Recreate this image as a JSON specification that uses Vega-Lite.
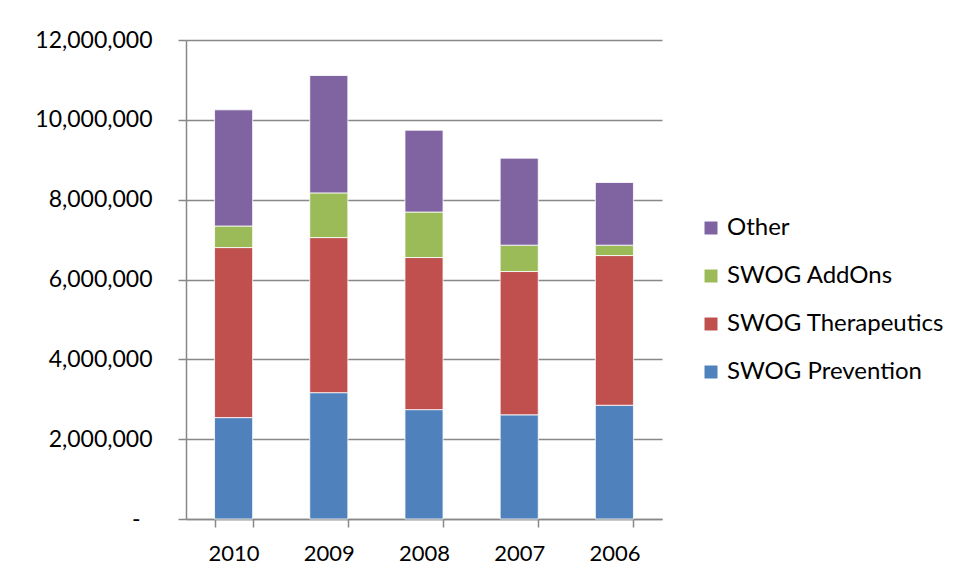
{
  "$schema": "https://vega.github.io/schema/vega-lite/v6.json",
  "autosize": "none",
  "width": 476,
  "height": 479,
  "padding": {"left": 186, "top": 40, "right": 297, "bottom": 59},
  "background": "white",
  "data": {
    "values": [
      {"year": "2010", "series": "SWOG Prevention", "value": 2540000, "ord": 1},
      {"year": "2010", "series": "SWOG Therapeutics", "value": 4260000, "ord": 2},
      {"year": "2010", "series": "SWOG AddOns", "value": 540000, "ord": 3},
      {"year": "2010", "series": "Other", "value": 2910000, "ord": 4},
      {"year": "2009", "series": "SWOG Prevention", "value": 3165000, "ord": 1},
      {"year": "2009", "series": "SWOG Therapeutics", "value": 3885000, "ord": 2},
      {"year": "2009", "series": "SWOG AddOns", "value": 1120000, "ord": 3},
      {"year": "2009", "series": "Other", "value": 2940000, "ord": 4},
      {"year": "2008", "series": "SWOG Prevention", "value": 2740000, "ord": 1},
      {"year": "2008", "series": "SWOG Therapeutics", "value": 3810000, "ord": 2},
      {"year": "2008", "series": "SWOG AddOns", "value": 1140000, "ord": 3},
      {"year": "2008", "series": "Other", "value": 2050000, "ord": 4},
      {"year": "2007", "series": "SWOG Prevention", "value": 2610000, "ord": 1},
      {"year": "2007", "series": "SWOG Therapeutics", "value": 3590000, "ord": 2},
      {"year": "2007", "series": "SWOG AddOns", "value": 660000, "ord": 3},
      {"year": "2007", "series": "Other", "value": 2180000, "ord": 4},
      {"year": "2006", "series": "SWOG Prevention", "value": 2850000, "ord": 1},
      {"year": "2006", "series": "SWOG Therapeutics", "value": 3750000, "ord": 2},
      {"year": "2006", "series": "SWOG AddOns", "value": 260000, "ord": 3},
      {"year": "2006", "series": "Other", "value": 1570000, "ord": 4}
    ]
  },
  "mark": {"type": "bar", "stroke": "white", "strokeWidth": 0.8},
  "encoding": {
    "x": {
      "field": "year", "type": "nominal", "sort": ["2010", "2009", "2008", "2007", "2006"],
      "scale": {"paddingInner": 0.6, "paddingOuter": 0.3},
      "axis": {
        "title": null, "labelAngle": 0, "tickBand": "extent", "grid": false,
        "domainColor": "#888888", "domainWidth": 1.5, "tickColor": "#888888", "tickWidth": 1.5, "tickSize": 8,
        "labelFont": "Lato", "labelFontSize": 22, "labelColor": "#000000", "labelPadding": 16
      }
    },
    "y": {
      "field": "value", "type": "quantitative", "stack": "zero",
      "scale": {"domain": [0, 12000000]},
      "axis": {
        "title": null, "values": [0, 2000000, 4000000, 6000000, 8000000, 10000000, 12000000],
        "labelExpr": "datum.value == 0 ? '-' : format(datum.value, ',')",
        "labelPadding": {"condition": {"test": "datum.value == 0", "value": 38}, "value": 26},
        "grid": true, "gridColor": "#888888", "gridWidth": 1.5,
        "domainColor": "#888888", "domainWidth": 1.5, "tickColor": "#888888", "tickWidth": 1.5, "tickSize": 8,
        "labelFont": "Lato", "labelFontSize": 23, "labelColor": "#000000"
      }
    },
    "color": {
      "field": "series", "type": "nominal",
      "scale": {
        "domain": ["Other", "SWOG AddOns", "SWOG Therapeutics", "SWOG Prevention"],
        "range": ["#8064A2", "#9BBB59", "#C0504D", "#4F81BD"]
      },
      "legend": {
        "title": null, "orient": "none", "legendX": 513, "legendY": 176,
        "symbolType": "square", "symbolSize": 169, "symbolStrokeWidth": 0,
        "labelFont": "Lato", "labelFontSize": 24, "labelColor": "#000000", "labelLimit": 300,
        "rowPadding": 24, "labelOffset": 4
      }
    },
    "order": {"field": "ord", "type": "quantitative"}
  },
  "config": {"view": {"stroke": null}}
}
